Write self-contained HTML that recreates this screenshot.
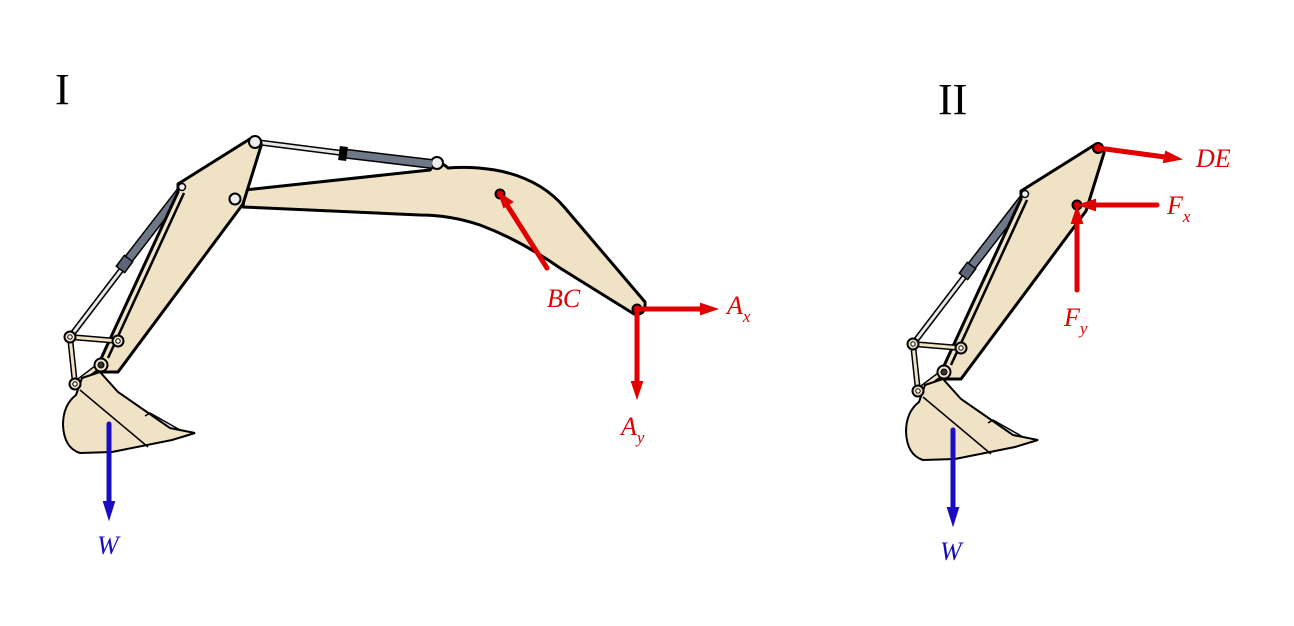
<!DOCTYPE html>
<html><head><meta charset="utf-8"><style>
html,body{margin:0;padding:0;background:#fff;}
svg{display:block;}
text{font-family:"Liberation Serif",serif;font-style:italic;}
</style></head><body>
<svg width="1294" height="626" viewBox="0 0 1294 626" xmlns="http://www.w3.org/2000/svg">
<defs>
<g id="arm">
  <line x1="125" y1="265" x2="70" y2="337" stroke="#000" stroke-width="6"/>
  <line x1="125" y1="265" x2="70" y2="337" stroke="#e8e8e8" stroke-width="3"/>
  <line x1="182" y1="190" x2="124" y2="265" stroke="#000" stroke-width="10"/>
  <line x1="182" y1="190" x2="124" y2="265" stroke="#6f7889" stroke-width="7"/>
  <line x1="129" y1="258" x2="120" y2="270" stroke="#000" stroke-width="12"/>
  <line x1="128" y1="259" x2="121" y2="269" stroke="#5d6678" stroke-width="9"/>
  <path d="M178,184 L253,137 Q262,138 261,146 L243,204 L118,372 L95,372 L105,350 L178,192 Z" fill="#f0e2c4" stroke="#000" stroke-width="3" stroke-linejoin="round"/>
  <line x1="184" y1="193" x2="108" y2="358" stroke="#000" stroke-width="2.5"/>
  <path d="M70,337 L118,341 M70,337 L75,384 L100,365" fill="none" stroke="#000" stroke-width="6" stroke-linecap="round"/>
  <path d="M70,337 L118,341 M70,337 L75,384 L100,365" fill="none" stroke="#f0e2c4" stroke-width="3" stroke-linecap="round"/>
  <path d="M82,378 L100,372 L118,392 L170,428 L195,433 L172,440 L112,452 L80,453 Q64,448 63,425 Q63,405 76,395 Z" fill="#f0e2c4" stroke="#000" stroke-width="2"/>
  <path d="M80,390 L148,447 M145,416 L150,413 L180,430" fill="none" stroke="#000" stroke-width="1.5"/>
  <circle cx="182" cy="187" r="3.5" fill="#eee" stroke="#000" stroke-width="1.5"/>
  <circle cx="70" cy="337" r="5.5" fill="#f0e2c4" stroke="#000" stroke-width="2"/><circle cx="70" cy="337" r="2.2" fill="#fff" stroke="#000"/>
  <circle cx="118" cy="341" r="5.5" fill="#f0e2c4" stroke="#000" stroke-width="2"/><circle cx="118" cy="341" r="2.2" fill="#fff" stroke="#000"/>
  <circle cx="75" cy="384" r="5.5" fill="#f0e2c4" stroke="#000" stroke-width="2"/><circle cx="75" cy="384" r="2.2" fill="#fff" stroke="#000"/>
  <circle cx="101" cy="365" r="6.5" fill="#f0e2c4" stroke="#000" stroke-width="2"/><circle cx="101" cy="365" r="3" fill="#333" stroke="#000"/>
</g>
</defs>

<text x="55" y="104" font-size="44" style="font-style:normal">I</text>
<path d="M245,190 L430,170 Q438,158 448,168 Q470,166 495,170 Q540,178 565,208 L645,302 Q646,316 634,314 L560,268 Q520,240 480,225 Q450,215 420,215 L243,207 Z" fill="#f0e2c4" stroke="#000" stroke-width="3" stroke-linejoin="round"/>
<circle cx="437" cy="163" r="6" fill="#eee" stroke="#000" stroke-width="2"/>
<line x1="256" y1="142" x2="342" y2="153" stroke="#000" stroke-width="6"/>
<line x1="256" y1="142" x2="342" y2="153" stroke="#e8e8e8" stroke-width="3"/>
<line x1="340" y1="153" x2="432" y2="164" stroke="#000" stroke-width="10"/>
<line x1="340" y1="153" x2="432" y2="164" stroke="#6f7889" stroke-width="7"/>
<line x1="339" y1="153" x2="347" y2="154" stroke="#000" stroke-width="14"/>
<use href="#arm"/>
<circle cx="255" cy="142" r="6" fill="#eee" stroke="#000" stroke-width="2"/>
<circle cx="235" cy="199" r="5.5" fill="#eee" stroke="#000" stroke-width="2"/>
<circle cx="500" cy="194" r="4.5" fill="#c00" stroke="#000" stroke-width="2"/>
<circle cx="637" cy="309" r="4.5" fill="#c00" stroke="#000" stroke-width="2"/>

<g stroke="#e00000" stroke-width="5" stroke-linecap="round" fill="#e00000">
  <line x1="547" y1="268" x2="507" y2="205"/>
  <polygon points="499,193 512,202 504,207" stroke-width="2"/>
  <line x1="637" y1="309" x2="702" y2="309"/>
  <polygon points="716,309 701,304 701,314" stroke-width="2"/>
  <line x1="637" y1="309" x2="637" y2="382"/>
  <polygon points="637,397 632,382 642,382" stroke-width="2"/>
</g>
<g fill="#e00000" font-size="26">
  <text x="547" y="307">BC</text>
  <text x="727" y="314">A<tspan font-size="17" dy="8">x</tspan></text>
  <text x="621" y="435">A<tspan font-size="17" dy="8">y</tspan></text>
</g>
<g stroke="#1a0dbf" stroke-width="5" stroke-linecap="round" fill="#1a0dbf">
  <line x1="109" y1="424" x2="109" y2="502"/>
  <polygon points="109,518 104,502 114,502" stroke-width="2"/>
</g>
<text x="97" y="554" fill="#1a0dbf" font-size="26">W</text>

<text x="938" y="114" font-size="44" style="font-style:normal">II</text>
<g transform="translate(843,7)"><use href="#arm"/></g>
<circle cx="1098" cy="148" r="5" fill="#c00" stroke="#000" stroke-width="2"/>
<circle cx="1077" cy="205" r="4.5" fill="#c00" stroke="#000" stroke-width="2"/>
<g stroke="#e00000" stroke-width="5" stroke-linecap="round" fill="#e00000">
  <line x1="1098" y1="148" x2="1165" y2="157"/>
  <polygon points="1180,159 1166,152 1164,162" stroke-width="2"/>
  <line x1="1157" y1="205" x2="1094" y2="205"/>
  <polygon points="1080,205 1095,200 1095,210" stroke-width="2"/>
  <line x1="1077" y1="290" x2="1077" y2="222"/>
  <polygon points="1077,208 1072,223 1082,223" stroke-width="2"/>
</g>
<g fill="#e00000" font-size="26">
  <text x="1196" y="167">DE</text>
  <text x="1167" y="214">F<tspan font-size="17" dy="8">x</tspan></text>
  <text x="1064" y="326">F<tspan font-size="17" dy="8">y</tspan></text>
</g>
<g stroke="#1a0dbf" stroke-width="5" stroke-linecap="round" fill="#1a0dbf">
  <line x1="953" y1="430" x2="953" y2="508"/>
  <polygon points="953,524 948,508 958,508" stroke-width="2"/>
</g>
<text x="940" y="560" fill="#1a0dbf" font-size="26">W</text>
</svg>
</body></html>
